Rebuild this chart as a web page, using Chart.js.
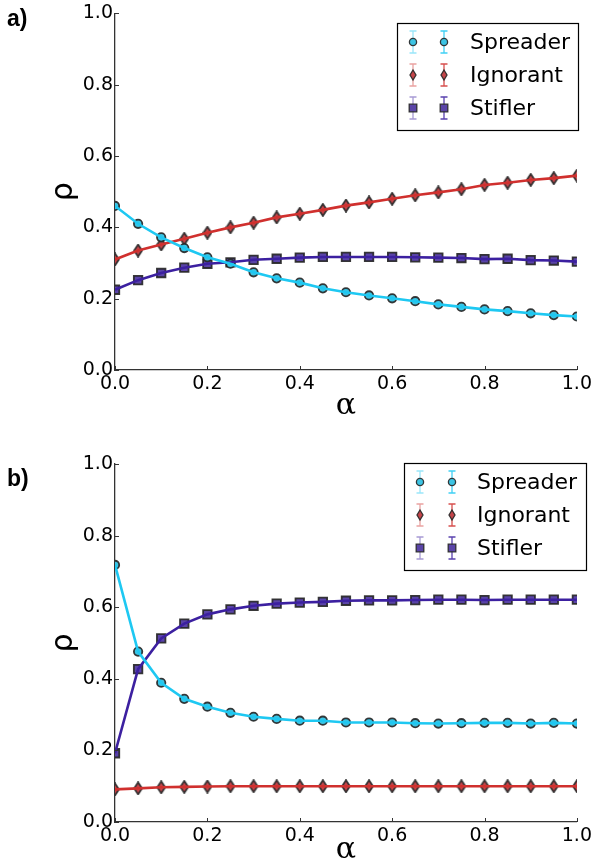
<!DOCTYPE html>
<html><head><meta charset="utf-8">
<script src="https://cdn.jsdelivr.net/npm/chart.js@4/dist/chart.umd.min.js"></script>
<style>
html,body{margin:0;padding:0;background:#fff;}
#wa{position:absolute;left:0;top:0;width:595px;height:432px;}
#wb{position:absolute;left:0;top:432px;width:595px;height:433px;}
</style></head><body>
<div id="wa"><canvas id="ca" width="595" height="432"></canvas></div>
<div id="wb"><canvas id="cb" width="595" height="433"></canvas></div>
<script>
// ---- data ----
const alphaValues = [0,0.05,0.1,0.15,0.2,0.25,0.3,0.35,0.4,0.45,0.5,0.55,0.6,0.65,0.7,0.75,0.8,0.85,0.9,0.95,1.0];
const spreaderA = [0.460,0.410,0.372,0.342,0.316,0.298,0.274,0.257,0.245,0.229,0.218,0.209,0.201,0.193,0.184,0.177,0.170,0.165,0.159,0.154,0.150];
const ignorantA = [0.310,0.335,0.352,0.368,0.385,0.400,0.413,0.428,0.438,0.449,0.461,0.470,0.480,0.490,0.498,0.507,0.519,0.525,0.533,0.538,0.545];
const stiflerA  = [0.225,0.252,0.272,0.287,0.298,0.302,0.309,0.312,0.315,0.317,0.317,0.317,0.317,0.316,0.315,0.314,0.311,0.312,0.308,0.307,0.304];
const spreaderB = [0.718,0.476,0.389,0.344,0.322,0.305,0.294,0.288,0.283,0.283,0.278,0.278,0.278,0.276,0.275,0.276,0.277,0.277,0.275,0.277,0.275];
const ignorantB = [0.091,0.094,0.097,0.098,0.099,0.100,0.100,0.100,0.100,0.100,0.100,0.100,0.100,0.100,0.100,0.100,0.100,0.100,0.100,0.100,0.100];
const stiflerB  = [0.192,0.427,0.513,0.554,0.580,0.594,0.604,0.610,0.613,0.615,0.618,0.619,0.619,0.620,0.621,0.621,0.620,0.621,0.621,0.621,0.621];
const seriesNames = ['Spreader','Ignorant','Stifler'];
const yTicks = [0,0.2,0.4,0.6,0.8,1.0];
const xTicks = [0,0.2,0.4,0.6,0.8,1.0];

// ---- styles ----
const lineColors = ['#1ec8f2','#d0302e','#3c20a0'];
const fillColors = ['#3cc4e4','#c4454a','#5a44a8'];
const edge = 'rgba(40,40,40,0.92)';

function diamondCanvas(fill){
  const c = document.createElement('canvas');
  c.width = 10; c.height = 14;
  const g = c.getContext('2d');
  g.beginPath();
  g.moveTo(5,1); g.lineTo(9,7); g.lineTo(5,13); g.lineTo(1,7); g.closePath();
  g.fillStyle = fill; g.fill();
  g.lineWidth = 1.8; g.strokeStyle = edge; g.stroke();
  return c;
}
const markerStyles = ['circle', diamondCanvas(fillColors[1]), 'rect'];
const markerRadius = [4.2, 5, 6];

function pts(arr){ return alphaValues.map((a,i)=>({x:a,y:arr[i]})); }

function makeDatasets(vals){
  const ds = [];
  vals.forEach((v,k)=>{
    ds.push({label:seriesNames[k], data:pts(v), showLine:true, borderColor:lineColors[k], borderWidth:2.6,
      pointRadius:0, tension:0, order:k});
  });
  vals.forEach((v,k)=>{
    ds.push({label:seriesNames[k]+' pts', data:pts(v), showLine:false, pointStyle:markerStyles[k],
      pointRadius:markerRadius[k], pointBackgroundColor:fillColors[k], pointBorderColor:edge,
      pointBorderWidth:1.8, order:10+k});
  });
  return ds;
}

const inwardTicks = {
  id:'inwardTicks',
  afterDraw(chart){
    const ctx = chart.ctx, xs = chart.scales.x, ys = chart.scales.y, a = chart.chartArea;
    ctx.save(); ctx.strokeStyle = '#333'; ctx.lineWidth = 1;
    xs.ticks.forEach((t,i)=>{ const p = Math.round(xs.getPixelForTick(i))+0.5;
      ctx.beginPath(); ctx.moveTo(p,a.bottom); ctx.lineTo(p,a.bottom-4); ctx.stroke(); });
    ys.ticks.forEach((t,i)=>{ const p = Math.round(ys.getPixelForTick(i))+0.5;
      ctx.beginPath(); ctx.moveTo(a.left,p); ctx.lineTo(a.left+4,p); ctx.stroke(); });
    ctx.restore();
  }
};

function drawMarker(ctx,k,x,y,scale){
  ctx.save();
  ctx.fillStyle = fillColors[k]; ctx.strokeStyle = edge; ctx.lineWidth = 1.3;
  ctx.beginPath();
  if(k===0){ ctx.arc(x,y,3.6*scale,0,Math.PI*2); }
  else if(k===1){ ctx.moveTo(x,y-5*scale); ctx.lineTo(x+3*scale,y); ctx.lineTo(x,y+5*scale); ctx.lineTo(x-3*scale,y); ctx.closePath(); }
  else { ctx.rect(x-3.8*scale,y-3.8*scale,7.6*scale,7.6*scale); }
  ctx.fill(); ctx.stroke();
  ctx.restore();
}

function legendPlugin(box, rowY, mx, tx, label, labelY){
  return {
    id:'customLegend',
    afterDraw(chart){
      const ctx = chart.ctx;
      ctx.save();
      ctx.strokeStyle = '#000'; ctx.lineWidth = 1.2;
      ctx.strokeRect(box[0]+0.5, box[1]+0.5, box[2]-box[0], box[3]-box[1]);
      seriesNames.forEach((n,k)=>{
        const y = rowY[k];
        mx.forEach((x,j)=>{
          ctx.save();
          ctx.globalAlpha = j===0 ? 0.45 : 0.85;
          ctx.strokeStyle = lineColors[k]; ctx.lineWidth = 1.3;
          ctx.beginPath();
          ctx.moveTo(x, y-11); ctx.lineTo(x, y+11);
          ctx.moveTo(x-3.5, y-11); ctx.lineTo(x+3.5, y-11);
          ctx.moveTo(x-3.5, y+11); ctx.lineTo(x+3.5, y+11);
          ctx.stroke();
          ctx.restore();
          drawMarker(ctx,k,x,y,1);
        });
        ctx.fillStyle = '#000';
        ctx.font = '22px "DejaVu Sans"';
        ctx.textBaseline = 'middle'; ctx.textAlign = 'left';
        ctx.fillText(n, tx, y+1);
      });
      ctx.font = 'bold 23px "Liberation Sans"';
      ctx.textBaseline = 'middle'; ctx.textAlign = 'left';
      ctx.fillText(label, 7, labelY);
      ctx.restore();
    }
  };
}

function makeChart(id, vals, padTop, xHeight, plugin, xTitlePad){
  return new Chart(document.getElementById(id), {
    type:'scatter',
    data:{datasets:makeDatasets(vals)},
    options:{
      responsive:false, animation:false, events:[],
      layout:{padding:{left:0,right:17,top:padTop,bottom:0}},
      plugins:{legend:{display:false}, tooltip:{enabled:false}},
      scales:{
        x:{type:'linear', min:0, max:1,
          afterBuildTicks(s){ s.ticks = xTicks.map(v=>({value:v})); },
          afterFit(s){ s.height = xHeight; },
          grid:{display:false, drawTicks:false},
          border:{display:true, color:'#333', width:1.3},
          ticks:{padding:3, color:'#000', font:{family:'DejaVu Sans', size:19}, maxRotation:0,
            callback:v=>Number(v).toFixed(1)},
          title:{display:true, text:'α', color:'#000', font:{family:'DejaVu Serif', size:30, lineHeight:1}, padding:{top:0,bottom:xTitlePad}}
        },
        y:{type:'linear', min:0, max:1,
          afterBuildTicks(s){ s.ticks = yTicks.map(v=>({value:v})); },
          afterFit(s){ s.width = 115; },
          grid:{display:false, drawTicks:false},
          border:{display:true, color:'#333', width:1.3},
          ticks:{padding:2, color:'#000', font:{family:'DejaVu Sans', size:19},
            callback:v=>Number(v).toFixed(1)},
          title:{display:true, text:'ρ', color:'#000', font:{family:'DejaVu Sans', size:30, lineHeight:1}, padding:{top:49,bottom:0}}
        }
      }
    },
    plugins:[inwardTicks, plugin]
  });
}

makeChart('ca', [spreaderA, ignorantA, stiflerA], 12, 62,
  legendPlugin([397,23,578,130],[42,75,108],[413,444],470,'a)',20), 11);
makeChart('cb', [spreaderB, ignorantB, stiflerB], 32, 43,
  legendPlugin([404,31,586,138],[50,83,116],[420,452],477,'b)',48), 0);
</script>
</body></html>
